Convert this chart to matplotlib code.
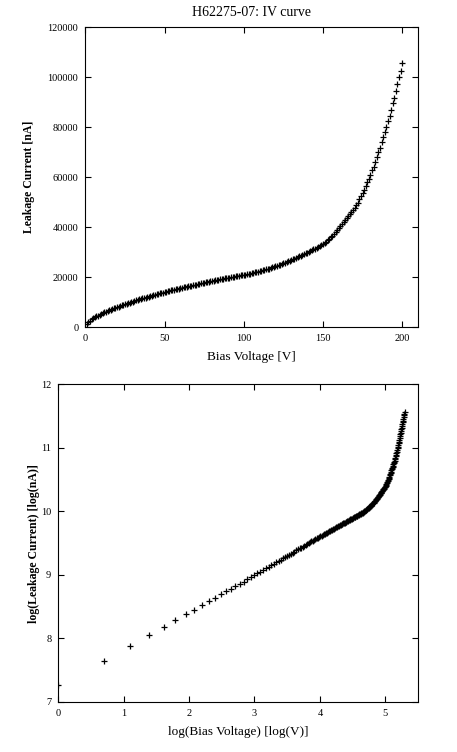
import matplotlib
matplotlib.use("Agg")
import matplotlib.pyplot as plt
import numpy as np

plt.rcParams['font.family'] = ['Liberation Serif', 'DejaVu Serif']

# Messdaten: Sperrspannung [V] und Leckstrom [nA]
bias_voltage = list(range(1, 201))
leakage_current = [
    1440, 2090, 2640, 3160, 3590, 3970, 4370, 4700, 5040, 5340,
    5650, 5960, 6250, 6520, 6780, 7040, 7300, 7560, 7810, 8060,
    8300, 8540, 8770, 9000, 9230, 9450, 9670, 9880, 10090, 10300,
    10510, 10720, 10920, 11120, 11320, 11520, 11710, 11900, 12090, 12280,
    12470, 12650, 12830, 13010, 13190, 13370, 13550, 13730, 13900, 14070,
    14230, 14390, 14550, 14710, 14860, 15020, 15170, 15320, 15480, 15630,
    15780, 15930, 16080, 16230, 16370, 16520, 16660, 16810, 16950, 17100,
    17240, 17380, 17520, 17660, 17800, 17930, 18070, 18210, 18340, 18480,
    18610, 18740, 18870, 19000, 19130, 19260, 19390, 19520, 19640, 19770,
    19900, 20020, 20140, 20260, 20390, 20510, 20630, 20740, 20860, 20980,
    21100, 21225, 21355, 21490, 21630, 21775, 21925, 22080, 22240, 22405,
    22575, 22750, 22930, 23115, 23305, 23500, 23700, 23905, 24115, 24330,
    24555, 24787, 25027, 25275, 25531, 25795, 26067, 26347, 26635, 26931,
    27212, 27495, 27780, 28067, 28356, 28647, 28940, 29235, 29532, 29831,
    30141, 30461, 30791, 31131, 31476, 31826, 32181, 32541, 32911, 33291,
    33741, 34241, 34791, 35381, 36011, 36671, 37361, 38081, 38821, 39581,
    40351, 41131, 41921, 42721, 43531, 44361, 45201, 46051, 46911, 47781,
    48781, 49881, 51131, 52331, 53581, 54931, 56381, 57931, 59431, 60981,
    62700, 64200, 66000, 67900, 69900, 71700, 74000, 76000, 77900, 80000,
    82400, 84600, 86900, 89600, 91800, 94500, 97300, 100200, 102600, 105600,
]

lin_xticks = [0, 50, 100, 150, 200]
lin_yticks = [0, 20000, 40000, 60000, 80000, 100000, 120000]
log_xticks = [0, 1, 2, 3, 4, 5]
log_yticks = [7, 8, 9, 10, 11, 12]

V = np.array(bias_voltage, dtype=float)
I = np.array(leakage_current, dtype=float)

fig = plt.figure(figsize=(4.57, 7.52), dpi=100)

def style(ax):
    for s in ax.spines.values():
        s.set_linewidth(0.8)
    ax.tick_params(direction='in', top=True, right=True, length=4.3,
                   width=0.8, labelsize=7.5, pad=5)

# oben: lineare IV-Kurve
ax1 = fig.add_axes([0.1867, 0.5648, 0.728, 0.399])
ax1.plot(V, I, '+', color='black', markersize=5, mew=0.9)
ax1.set_xlim(0, 210)
ax1.set_ylim(0, 120000)
ax1.set_xticks(lin_xticks)
ax1.set_yticks(lin_yticks)
ax1.set_title('H62275-07: IV curve', fontsize=10, pad=8)
ax1.set_xlabel('Bias Voltage [V]', fontsize=9.5)
ax1.set_ylabel('Leakage Current [nA]', fontsize=8.5, fontweight='bold')
ax1.xaxis.set_label_coords(0.5, -0.079)
ax1.yaxis.set_label_coords(-0.150, 0.5)
style(ax1)

# unten: log-log Darstellung
ax2 = fig.add_axes([0.1276, 0.0665, 0.787, 0.4225])
ax2.plot(np.log(V), np.log(I), '+', color='black', markersize=5, mew=0.9)
ax2.set_xlim(0, 5.5)
ax2.set_ylim(7, 12)
ax2.set_xticks(log_xticks)
ax2.set_yticks(log_yticks)
ax2.set_xlabel('log(Bias Voltage) [log(V)]', fontsize=9.5)
ax2.set_ylabel('log(Leakage Current) [log(nA)]', fontsize=8.5, fontweight='bold')
ax2.xaxis.set_label_coords(0.5, -0.074)
ax2.yaxis.set_label_coords(-0.052, 0.5)
style(ax2)

fig.savefig('out.png', dpi=100)
